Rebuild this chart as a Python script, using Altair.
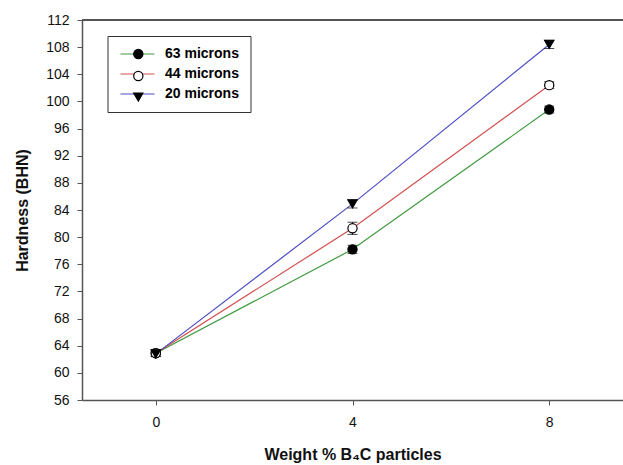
import altair as alt
import pandas as pd

# ---- data ----
weights = [0, 4, 8]
series_names = ["63 microns", "44 microns", "20 microns"]
marker_keys = ["m63", "m44", "m20"]
hard_63 = [62.9, 78.2, 98.8]
hard_44 = [62.9, 81.3, 102.4]
hard_20 = [62.8, 84.9, 108.4]
err_63 = [0.5, 0.6, 0.5]
err_44 = [0.4, 0.9, 0.5]
err_20 = [0.4, 0.6, 0.6]
y_ticks = list(range(56, 113, 4))
x_ticks = [0, 4, 8]

line_colors = ["#3f9a3f", "#d45050", "#4c4cc4"]
marker_shapes = ["circle", "circle", "triangle-down"]
marker_fills = ["black", "white", "black"]
marker_strokes = ["black", "black", "black"]

rows = []
for name, key, vals, errs in zip(series_names, marker_keys, [hard_63, hard_44, hard_20], [err_63, err_44, err_20]):
    for w, v, e in zip(weights, vals, errs):
        rows.append({"series": name, "series2": key, "w": w, "h": v, "lo": v - e, "hi": v + e})
df = pd.DataFrame(rows)

FONT = "Liberation Sans"

x_enc = alt.X("w:Q", scale=alt.Scale(domain=[-1.5, 9.5], nice=False, zero=False),
              axis=alt.Axis(values=x_ticks, title="Weight % B₄C particles", grid=False,
                            tickSize=5, labelPadding=10, labelFontSize=14,
                            titleFontSize=16, titleFontWeight="bold", titlePadding=17))
y_enc = alt.Y("h:Q", scale=alt.Scale(domain=[56, 112], nice=False, zero=False),
              axis=alt.Axis(values=y_ticks, tickCount=30, title="Hardness (BHN)", grid=False,
                            tickSize=5, labelPadding=8, labelFontSize=14,
                            labelOverlap=False, labelFlush=False,
                            titleFontSize=16, titleFontWeight="bold", titleX=-52))

base = alt.Chart(df)

lines = base.mark_line(strokeWidth=1.2).encode(
    x=x_enc, y=y_enc,
    color=alt.Color("series:N", scale=alt.Scale(domain=series_names, range=line_colors),
                    legend=alt.Legend(orient="none", legendX=25.5, legendY=16, title=None,
                                      symbolType="M-1,0L5.8,0", symbolSize=100,
                                      symbolStrokeWidth=1.2, labelFont=FONT,
                                      labelFontSize=14, labelFontWeight="bold",
                                      labelColor="black", labelOffset=32.5, padding=11,
                                      rowPadding=6, strokeColor="#333", fillColor="white")),
)

bars = base.mark_rule(color="black", strokeWidth=1).encode(x="w:Q", y="lo:Q", y2="hi:Q")
cap_lo = base.mark_tick(color="black", size=10, thickness=1, orient="horizontal").encode(x="w:Q", y="lo:Q")
cap_hi = base.mark_tick(color="black", size=10, thickness=1, orient="horizontal").encode(x="w:Q", y="hi:Q")

marker_legend = alt.Legend(orient="none", legendX=49.3, legendY=27, title=None,
                           symbolSize=85, symbolStrokeWidth=1.2, labelFontSize=14,
                           labelFont=FONT, labelExpr="''", padding=0, rowPadding=6)

points = base.mark_point(filled=True, strokeWidth=1.2, size=85, opacity=1).encode(
    x="w:Q", y="h:Q",
    shape=alt.Shape("series2:N", scale=alt.Scale(domain=marker_keys, range=marker_shapes),
                    legend=marker_legend),
    fill=alt.Fill("series2:N", scale=alt.Scale(domain=marker_keys, range=marker_fills),
                  legend=marker_legend),
    stroke=alt.Stroke("series2:N", scale=alt.Scale(domain=marker_keys, range=marker_strokes),
                      legend=marker_legend),
)

top_rule = alt.Chart(df).mark_rule(color="#555", strokeWidth=1.5).encode(y=alt.datum(112))

chart = alt.layer(lines, bars, cap_lo, cap_hi, points, top_rule).properties(
    width=541, height=380,
    autosize=alt.AutoSizeParams(type="none"),
    padding={"left": 82, "top": 20, "right": 0, "bottom": 65},
    background="white",
).configure_view(stroke=None).configure_axis(
    labelFont=FONT, titleFont=FONT, labelColor="#111", titleColor="#111",
    domainColor="#555", domainWidth=1.5, tickColor="#555", tickWidth=1,
)

chart.save("out.html", embed_options={"renderer": "svg", "actions": False})
